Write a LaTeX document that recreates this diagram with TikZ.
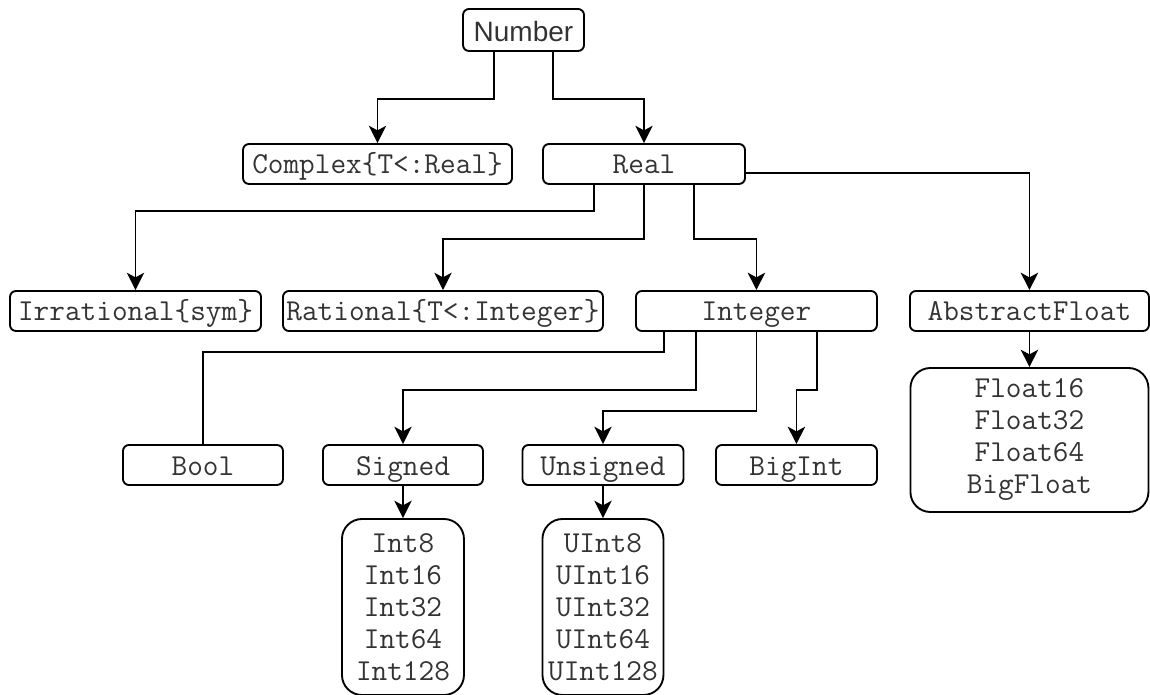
\documentclass[tikz,border=0pt]{standalone}
\usepackage{fontspec}
\setmainfont{Liberation Sans}
\usepackage{tikz}
\usetikzlibrary{arrows.meta, positioning}

\tikzset{
  boite/.style={draw, rounded corners=4.5pt, line width=1.4pt, minimum height=30pt,
    inner sep=0pt, text=black!80, text height=17pt, text depth=2pt,
    font=\ttfamily\fontsize{22.8}{24}\selectfont},
  liste/.style={boite, rounded corners=15pt, align=center, text height={}, text depth={}},
  fleche/.style={-{Stealth[length=13pt,width=13pt,inset=3.5pt]}, line width=1.4pt},
  trait/.style={line width=1.4pt},
}

\begin{document}
\begin{tikzpicture}[on grid]

            \useasboundingbox (0,0) rectangle (862.5pt,-521.25pt);

            % Définitions des types
            \node[boite, font=\fontsize{21}{25}\selectfont, text height=18pt, text depth=1pt, minimum width=90.75pt, minimum height=31.5pt] (number) at (392.625pt,-22.5pt) {Number};
            \node[boite, minimum width=201.75pt, below left=100.5pt and 109.5pt of number] (cplx) {Complex\{T<:Real\}};
            \node[boite, minimum width=151.5pt, right=199.875pt of cplx] (real) {Real};

            \node[boite, minimum width=188.25pt, below left=110.25pt and 181.5pt of cplx] (irr) {Irrational\{sym\}};
            \node[boite, minimum width=240pt, right=230.6pt of irr] (rat) {Rational\{T<:Integer\}};
            \node[boite, minimum width=180.75pt, right=235.1pt of rat] (integer) {Integer};
            \node[boite, minimum width=179.25pt, right=204.75pt of integer] (afloat) {AbstractFloat};
            \node[liste, minimum width=178.5pt, minimum height=108pt, below=96.75pt of afloat] (floats) {Float16\\Float32\\Float64\\BigFloat};

            \node[boite, minimum width=120pt, below right=115.5pt and 50.6pt of irr] (bool) {Bool};
            \node[boite, minimum width=120pt, right=150pt of bool] (signed) {Signed};
            \node[boite, minimum width=120.75pt, right=150pt of signed] (unsigned) {Unsigned};
            \node[boite, minimum width=120.75pt, right=145.1pt of unsigned] (bigint) {BigInt};

            \node[liste, minimum width=91.5pt, minimum height=132pt, below=106.5pt of signed] (ints) {Int8\\Int16\\Int32\\Int64\\Int128};
            \node[liste, minimum width=90.75pt, minimum height=132pt, below=106.5pt of unsigned] (uints) {UInt8\\UInt16\\UInt32\\UInt64\\UInt128};

            % Définition des liens
            \draw[fleche] ([xshift=-22.1pt]number.south) -- ++(0,-35.25pt) -| (cplx.north);
            \draw[fleche] ([xshift=22.1pt]number.south) -- ++(0,-35.25pt) -| (real.north);

            \draw[fleche] ([xshift=-37.5pt]real.south) -- ++(0,-19.5pt) -| (irr.north);
            \draw[fleche] (real.south) -- ++(0,-40.5pt) -| (rat.north);
            \draw[fleche] ([xshift=37.5pt]real.south) -- ++(0,-40.5pt) -| (integer.north);
            \draw[fleche] ([yshift=-6.75pt]real.east) -| (afloat.north);
            \draw[fleche] (afloat) -- (floats);

            \draw[trait] ([xshift=-69.4pt]integer.south) -- ++(0,-15pt) -| (bool.north);
            \draw[fleche] ([xshift=-45.4pt]integer.south) -- ++(0,-43.5pt) -| (signed.north);
            \draw[fleche] (integer.south) -- ++(0,-59.25pt) -| (unsigned.north);
            \draw[fleche] ([xshift=45.4pt]integer.south) -- ++(0,-43.5pt) -| (bigint.north);

            \draw[fleche] (signed) -- (ints);
            \draw[fleche] (unsigned) -- (uints);

\end{tikzpicture}
\end{document}
